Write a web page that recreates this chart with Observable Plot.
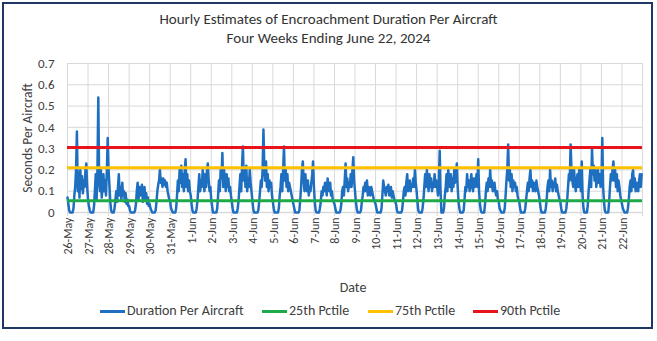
<!DOCTYPE html>
<html><head><meta charset="utf-8">
<script src="https://cdn.jsdelivr.net/npm/d3@7"></script>
<script src="https://cdn.jsdelivr.net/npm/@observablehq/plot@0.6"></script>
<style>
body{margin:0;background:#fff;font-family:Carlito,Lato,"Liberation Sans",sans-serif;color:#404040;}
#frame{position:absolute;left:2px;top:2px;box-sizing:border-box;width:651px;height:327px;border:2px solid #1f3764;}
.title{position:absolute;left:0;width:657px;text-align:center;font-size:15px;line-height:18px;color:#333;}
#chart{position:absolute;left:0;top:50px;}
.leg{position:absolute;top:302px;font-size:14px;line-height:18px;color:#404040;display:flex;align-items:center;white-space:nowrap;}
.sw{display:inline-block;width:25px;height:3px;margin-right:2px;}
</style></head><body>
<div id="frame"></div>
<div class="title" style="top:10px">Hourly Estimates of Encroachment Duration Per Aircraft</div>
<div class="title" style="top:29px">Four Weeks Ending June 22, 2024</div>
<div id="chart"></div>
<div id="legend"></div>
<script>
const dayLabels = ["26-May","27-May","28-May","29-May","30-May","31-May","1-Jun","2-Jun","3-Jun","4-Jun","5-Jun","6-Jun","7-Jun","8-Jun","9-Jun","10-Jun","11-Jun","12-Jun","13-Jun","14-Jun","15-Jun","16-Jun","17-Jun","18-Jun","19-Jun","20-Jun","21-Jun","22-Jun"];
const yTicks = [0,0.1,0.2,0.3,0.4,0.5,0.6,0.7];
// hourly readings (hours 0..23) for each day, 26-May to 22-Jun
const duration = [
0.07,0.04,0.01,0.0,0.0,0.0,0.0,0.02, 0.08,0.12,0.2,0.38,0.1,0.19,0.07,0.2, 0.11,0.17,0.09,0.15,0.12,0.2,0.23,0.12,
0.06,0.03,0.01,0.0,0.0,0.0,0.0,0.03, 0.1,0.18,0.06,0.2,0.54,0.14,0.1,0.2, 0.07,0.12,0.18,0.1,0.15,0.08,0.2,0.35,
0.2,0.13,0.05,0.01,0.0,0.0,0.0,0.02, 0.06,0.1,0.05,0.12,0.18,0.08,0.12,0.06, 0.14,0.08,0.1,0.05,0.09,0.04,0.06,0.03,
0.03,0.01,0.0,0.0,0.0,0.0,0.0,0.01, 0.04,0.1,0.14,0.06,0.12,0.08,0.1,0.13, 0.05,0.1,0.12,0.06,0.09,0.04,0.07,0.03,
0.04,0.02,0.01,0.0,0.0,0.0,0.0,0.01, 0.05,0.1,0.13,0.15,0.2,0.14,0.16,0.12, 0.16,0.13,0.15,0.12,0.14,0.1,0.08,0.06,
0.05,0.02,0.01,0.0,0.0,0.0,0.0,0.02, 0.08,0.15,0.1,0.2,0.14,0.22,0.12,0.18, 0.1,0.2,0.25,0.12,0.18,0.1,0.15,0.1,
0.08,0.04,0.01,0.0,0.0,0.0,0.0,0.02, 0.06,0.12,0.18,0.1,0.15,0.12,0.2,0.16, 0.1,0.18,0.12,0.2,0.23,0.15,0.1,0.12,
0.06,0.03,0.0,0.0,0.0,0.0,0.0,0.02, 0.08,0.15,0.1,0.2,0.16,0.28,0.12,0.2, 0.15,0.1,0.18,0.12,0.16,0.1,0.12,0.08,
0.05,0.02,0.0,0.0,0.0,0.0,0.0,0.02, 0.06,0.12,0.18,0.1,0.22,0.31,0.15,0.2, 0.12,0.22,0.1,0.16,0.12,0.2,0.14,0.1,
0.06,0.02,0.0,0.0,0.0,0.0,0.0,0.01, 0.05,0.1,0.15,0.12,0.2,0.39,0.22,0.15, 0.24,0.12,0.18,0.1,0.15,0.12,0.14,0.08,
0.05,0.02,0.0,0.0,0.0,0.0,0.0,0.02, 0.08,0.12,0.18,0.1,0.2,0.31,0.15,0.2, 0.12,0.18,0.1,0.14,0.12,0.1,0.08,0.06,
0.04,0.02,0.0,0.0,0.0,0.0,0.0,0.01, 0.06,0.12,0.2,0.24,0.15,0.1,0.18,0.12, 0.1,0.15,0.08,0.12,0.1,0.14,0.18,0.24,
0.12,0.05,0.01,0.0,0.0,0.0,0.0,0.02, 0.05,0.1,0.08,0.12,0.1,0.14,0.12,0.08, 0.16,0.12,0.1,0.14,0.08,0.1,0.06,0.05,
0.04,0.02,0.0,0.0,0.0,0.0,0.0,0.01, 0.04,0.1,0.12,0.08,0.15,0.23,0.12,0.16, 0.1,0.14,0.12,0.18,0.12,0.2,0.26,0.15,
0.1,0.05,0.02,0.0,0.0,0.0,0.0,0.01, 0.05,0.08,0.12,0.1,0.14,0.1,0.15,0.08, 0.12,0.1,0.08,0.12,0.1,0.08,0.06,0.05,
0.04,0.02,0.0,0.0,0.0,0.0,0.0,0.02, 0.08,0.15,0.12,0.1,0.08,0.12,0.1,0.13, 0.08,0.1,0.12,0.07,0.1,0.08,0.06,0.05,
0.04,0.01,0.0,0.0,0.0,0.0,0.0,0.01, 0.05,0.1,0.12,0.08,0.14,0.18,0.1,0.12, 0.15,0.1,0.13,0.12,0.16,0.12,0.2,0.14,
0.1,0.05,0.01,0.0,0.0,0.0,0.0,0.02, 0.06,0.12,0.18,0.12,0.2,0.15,0.1,0.18, 0.12,0.16,0.1,0.14,0.12,0.18,0.12,0.15,
0.12,0.08,0.15,0.29,0.1,0.0,0.0,0.0, 0.02,0.08,0.12,0.18,0.1,0.2,0.14,0.12, 0.18,0.1,0.16,0.12,0.2,0.14,0.18,0.23,
0.12,0.05,0.02,0.0,0.0,0.0,0.0,0.01, 0.06,0.12,0.1,0.18,0.12,0.15,0.1,0.14, 0.18,0.12,0.1,0.16,0.12,0.14,0.18,0.12,
0.25,0.1,0.04,0.01,0.0,0.0,0.0,0.0, 0.04,0.1,0.14,0.1,0.16,0.12,0.2,0.12, 0.15,0.1,0.12,0.14,0.1,0.08,0.1,0.06,
0.05,0.02,0.01,0.0,0.0,0.0,0.0,0.02, 0.08,0.15,0.2,0.32,0.15,0.2,0.12,0.18, 0.1,0.15,0.12,0.14,0.1,0.12,0.08,0.06,
0.05,0.02,0.0,0.0,0.0,0.0,0.0,0.02, 0.06,0.1,0.14,0.1,0.16,0.2,0.12,0.15, 0.1,0.14,0.12,0.1,0.15,0.12,0.1,0.08,
0.05,0.02,0.0,0.0,0.0,0.0,0.0,0.02, 0.06,0.12,0.15,0.1,0.2,0.12,0.15,0.1, 0.14,0.12,0.16,0.1,0.13,0.1,0.08,0.06,
0.05,0.02,0.0,0.0,0.0,0.0,0.0,0.02, 0.06,0.12,0.18,0.15,0.32,0.2,0.15,0.12, 0.2,0.14,0.1,0.15,0.18,0.12,0.2,0.15,
0.1,0.24,0.08,0.02,0.0,0.0,0.0,0.0, 0.03,0.1,0.15,0.2,0.12,0.3,0.18,0.22, 0.15,0.2,0.12,0.16,0.2,0.14,0.18,0.12,
0.15,0.35,0.12,0.05,0.01,0.0,0.0,0.0, 0.0,0.05,0.12,0.18,0.15,0.2,0.24,0.15, 0.2,0.12,0.18,0.1,0.15,0.12,0.08,0.06,
0.04,0.02,0.01,0.0,0.0,0.0,0.0,0.02, 0.06,0.12,0.15,0.1,0.18,0.2,0.12,0.16, 0.1,0.14,0.12,0.1,0.15,0.18,0.12,0.18
];
const pctileNames = ["25th Pctile","75th Pctile","90th Pctile"];
const pctileValues = [0.055,0.21,0.305];
const seriesNames = ["Duration Per Aircraft", ...pctileNames];
const seriesColors = ["#1f6fc0","#1faa4a","#ffc000","#e8141b"];

const points = duration.map((v,i)=>({t: i/24, v}));
const font = "Carlito,Lato,'Liberation Sans',sans-serif";

const chart = Plot.plot({
  width: 657, height: 250,
  marginLeft: 67, marginRight: 15, marginTop: 13, marginBottom: 88,
  style: {fontFamily: font, fontSize: "12px", color: "#404040", background: "transparent", overflow: "visible"},
  x: {domain: [0, 28], label: null},
  y: {domain: [0, 0.7], label: null},
  marks: [
    Plot.gridY(yTicks.slice(1), {stroke: "#d9d9d9", strokeOpacity: 1, strokeWidth: 1}),
    Plot.ruleY([0], {stroke: "#d9d9d9", strokeWidth: 1.5}),
    Plot.tickX(d3.range(29), {x: d => d, y1: 0, y2: 0, stroke: "#d9d9d9", insetBottom: -4}),
    Plot.axisY({ticks: yTicks, tickSize: 0, tickPadding: 13, tickFormat: d => d === 0 ? "0" : d.toFixed(1), label: null, fontSize: 13}),
    Plot.axisX({ticks: d3.range(28), tickSize: 0, tickPadding: 5, tickRotate: -90, tickFormat: i => dayLabels[i], label: null, fontSize: 12, dx: 1}),
    Plot.line(points, {x: "t", y: "v", stroke: seriesColors[0], strokeWidth: 2.5, strokeLinejoin: "round"}),
    Plot.ruleY(pctileValues, {y: d => d, stroke: (d,i) => seriesColors[i+1], strokeWidth: 3}),
    Plot.text(["Seconds Per Aircraft"], {frameAnchor: "left", textAnchor: "middle", rotate: -90, dx: -40, fontSize: 13.5, fill: "#404040"}),
    Plot.text(["Date"], {frameAnchor: "bottom", dy: 79, dx: -2, fontSize: 14, fill: "#404040"})
  ]
});
document.getElementById("chart").appendChild(chart);

const legLeft = [100, 262, 368, 473];
const legend = document.getElementById("legend");
seriesNames.forEach((name, i) => {
  const d = document.createElement("div");
  d.className = "leg";
  d.style.left = legLeft[i] + "px";
  d.innerHTML = `<span class="sw" style="background:${seriesColors[i]}"></span>${name}`;
  legend.appendChild(d);
});
</script>
</body></html>
